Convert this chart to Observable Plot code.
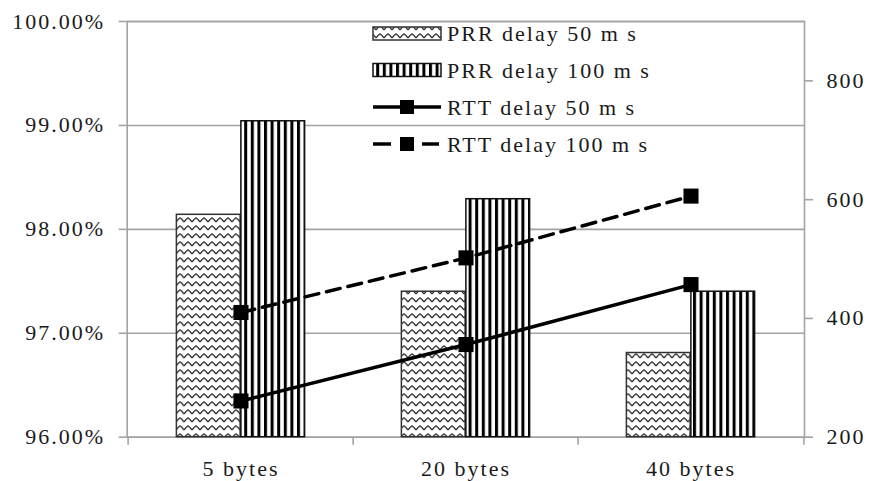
<!DOCTYPE html>
<html>
<head>
<meta charset="utf-8">
<script src="https://cdn.jsdelivr.net/npm/d3@7"></script>
<script src="https://cdn.jsdelivr.net/npm/@observablehq/plot@0.6"></script>
<style>
  html, body { margin: 0; padding: 0; background: #fff; }
  svg { display: block; }
</style>
</head>
<body>
<div id="chart"></div>
<script>
// ---- data ----
const categories = ["5 bytes", "20 bytes", "40 bytes"];
const prr50 = [98.14, 97.40, 96.81];
const prr100 = [99.04, 98.29, 97.40];
const rtt50 = [261, 356, 457];
const rtt100 = [410, 502, 606];
const leftTicks = [96, 97, 98, 99, 100];
const rightTicks = [200, 400, 600, 800];
const seriesNames = ["PRR delay 50 m s", "PRR delay 100 m s", "RTT delay 50 m s", "RTT delay 100 m s"];

// secondary axis mapping (RTT 200..900 onto the PRR 96..100 scale)
const rtt2y = d3.scaleLinear([200, 900], [96, 100]);

const rows = categories.map((c, i) => ({
  cat: c, prr50: prr50[i], prr100: prr100[i], rtt50: rtt50[i], rtt100: rtt100[i]
}));

const W = 870, H = 481;
const mL = 126.7, mR = 66, mT = 21, mB = 44.3;
const bw = (W - mL - mR) / categories.length;
const half = bw / 2;
const barW = 64.5;
const gridColor = "#a3a3a3";
const textColor = "#1a1a1a";

const plot = Plot.plot({
  width: W, height: H,
  marginLeft: mL, marginRight: mR, marginTop: mT, marginBottom: mB,
  style: {fontFamily: "'Liberation Serif', 'Times New Roman', serif", fontSize: "22px", letterSpacing: "2px", background: "#fff", color: textColor},
  x: {type: "band", domain: categories, padding: 0, label: null},
  y: {domain: [96, 100], label: null},
  marks: [
    Plot.gridY(leftTicks, {stroke: gridColor, strokeOpacity: 1, strokeWidth: 1.6}),
    Plot.frame({stroke: gridColor, strokeWidth: 1.6}),
    Plot.ruleX(categories, {x: d => d, y1: () => 96, y2: () => 96, insetBottom: -8, dx: -half, stroke: gridColor, strokeWidth: 1.6}),
    Plot.ruleX(categories.slice(-1), {x: d => d, y1: () => 96, y2: () => 96, insetBottom: -8, dx: half, stroke: gridColor, strokeWidth: 1.6}),
    Plot.axisY(leftTicks, {anchor: "left", tickSize: 8, tickPadding: 14, stroke: gridColor, strokeWidth: 1.6, fill: textColor, tickFormat: d => d.toFixed(2) + "%", label: null}),
    Plot.axisY(rightTicks.map(rtt2y), {anchor: "right", tickSize: 8, tickPadding: 14, stroke: gridColor, strokeWidth: 1.6, fill: textColor, tickFormat: d => String(Math.round(rtt2y.invert(d))), label: null}),
    Plot.axisX({tickSize: 0, tickPadding: 23, fill: textColor, label: null}),
    Plot.barY(rows, {x: "cat", y1: () => 96, y2: "prr50", insetLeft: half - barW, insetRight: half, fill: "url(#zig)", stroke: "#333", strokeWidth: 1.5}),
    Plot.barY(rows, {x: "cat", y1: () => 96, y2: "prr100", insetLeft: half, insetRight: half - barW, fill: "url(#vstripe)", stroke: "#111", strokeWidth: 1.5}),
    Plot.line(rows, {x: "cat", y: d => rtt2y(d.rtt50), stroke: "#000", strokeWidth: 3.5}),
    Plot.line(rows, {x: "cat", y: d => rtt2y(d.rtt100), stroke: "#000", strokeWidth: 3.5, strokeDasharray: "14,8"}),
    Plot.dot(rows, {x: "cat", y: d => rtt2y(d.rtt50), symbol: "square", r: 8.5, fill: "#000"}),
    Plot.dot(rows, {x: "cat", y: d => rtt2y(d.rtt100), symbol: "square", r: 8.5, fill: "#000"})
  ]
});

// patterns
const svg = d3.select(plot);
const defs = svg.insert("defs", ":first-child");
const zig = defs.append("pattern").attr("id", "zig").attr("patternUnits", "userSpaceOnUse")
  .attr("width", 8).attr("height", 8);
zig.append("rect").attr("width", 8).attr("height", 8).attr("fill", "#fff");
zig.append("path").attr("d", "M0,6 L2,3.5 L4,2 L6,3.5 L8,6 M-2,3.5 L0,6 M8,6 L10,3.5")
  .attr("fill", "none").attr("stroke", "#444").attr("stroke-width", 1.5);
const vs = defs.append("pattern").attr("id", "vstripe").attr("patternUnits", "userSpaceOnUse")
  .attr("width", 6.6).attr("height", 10);
vs.append("rect").attr("width", 6.6).attr("height", 10).attr("fill", "#fff");
vs.append("rect").attr("x", 0).attr("width", 3).attr("height", 10).attr("fill", "#000");

// legend (inside plot area)
const lg = svg.append("g").attr("class", "legend").attr("text-anchor", "start");
const lx0 = 373, lx1 = 441, tx = 447;
const rowY = [33.5, 70, 107, 144];
seriesNames.forEach((name, i) => {
  const cy = rowY[i];
  if (i === 0 || i === 1) {
    lg.append("rect").attr("x", lx0).attr("y", cy - 6.5).attr("width", lx1 - lx0).attr("height", 13)
      .attr("fill", i === 0 ? "url(#zig)" : "url(#vstripe)")
      .attr("stroke", i === 0 ? "#333" : "#111").attr("stroke-width", 1.5);
  } else if (i === 2) {
    lg.append("line").attr("x1", lx0).attr("x2", lx1).attr("y1", cy).attr("y2", cy)
      .attr("stroke", "#000").attr("stroke-width", 3.5);
    lg.append("rect").attr("x", 400).attr("y", cy - 7).attr("width", 14).attr("height", 14).attr("fill", "#000");
  } else {
    lg.append("line").attr("x1", lx0).attr("x2", 391).attr("y1", cy).attr("y2", cy)
      .attr("stroke", "#000").attr("stroke-width", 3.5);
    lg.append("line").attr("x1", 422).attr("x2", 439).attr("y1", cy).attr("y2", cy)
      .attr("stroke", "#000").attr("stroke-width", 3.5);
    lg.append("rect").attr("x", 400).attr("y", cy - 7).attr("width", 14).attr("height", 14).attr("fill", "#000");
  }
  lg.append("text").attr("x", tx).attr("y", cy + 7.5).attr("fill", textColor)
    .attr("text-anchor", "start").text(name);
});

document.getElementById("chart").appendChild(plot);
</script>
</body>
</html>
